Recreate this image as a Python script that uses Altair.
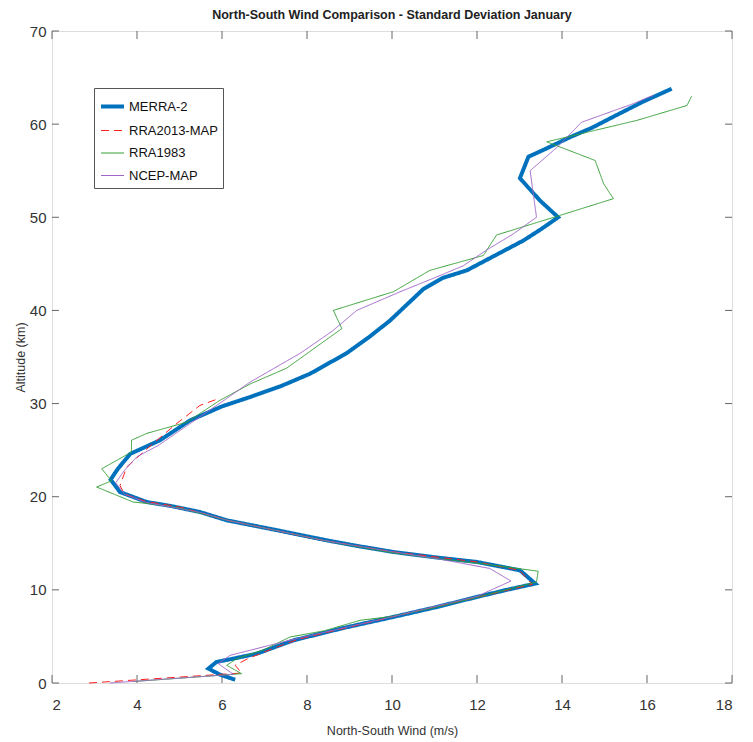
import altair as alt
import pandas as pd

series_names = ["MERRA-2", "RRA2013-MAP", "RRA1983", "NCEP-MAP"]
series_colors = ["#0072BD", "#FF2020", "#35A035", "#A066C8"]

merra_wind = [6.31, 5.95, 5.68, 5.87, 6.27, 6.82, 7.68, 8.85, 10.03, 11.0, 11.99, 12.7, 13.37,
              13.01, 11.99, 11.0, 10.03, 9.2, 8.46, 7.3, 6.11, 5.48, 4.8, 4.23, 3.6, 3.38, 3.55,
              3.84, 4.54, 5.25, 6.0, 6.66, 7.4, 8.07, 8.93, 9.45, 9.95, 10.74, 11.2, 11.76, 12.3,
              13.09, 13.5, 13.91, 13.48, 13.01, 13.21, 13.64, 14.19, 14.7, 15.21, 15.9, 16.58]
merra_alt = [0.35, 0.9, 1.55, 2.26, 2.62, 3.15, 4.58, 5.9, 7.09, 8.1, 9.23, 10.0, 10.67,
             12.1, 13.0, 13.5, 14.07, 14.7, 15.32, 16.4, 17.47, 18.36, 19.0, 19.43, 20.5, 21.84, 23.0,
             24.6, 26.06, 28.2, 29.7, 30.7, 31.9, 33.2, 35.4, 37.1, 38.9, 42.3, 43.5, 44.3, 45.6,
             47.5, 48.7, 50.0, 51.8, 54.2, 56.5, 57.4, 58.6, 59.6, 60.8, 62.4, 63.8]

rra2013_wind = [2.87, 6.46, 6.31, 6.6, 7.2, 7.8, 10.0, 12.0, 13.3, 13.0, 12.0, 10.0, 8.4, 6.1,
                5.0, 4.2, 3.7, 3.6, 3.76, 4.2, 4.89, 5.48, 5.9]
rra2013_alt = [0.0, 1.07, 1.9, 2.6, 3.7, 4.7, 7.1, 9.2, 10.6, 12.1, 13.0, 14.1, 15.3, 17.5,
               18.9, 19.5, 20.3, 21.2, 23.2, 25.0, 27.7, 29.8, 30.5]

rra1983_wind = [3.9, 6.46, 6.11, 6.35, 7.0, 7.6, 8.4, 9.25, 10.0, 11.0, 12.0, 13.4, 13.44, 12.3,
                11.0, 10.0, 8.5, 6.1, 5.0, 4.4, 3.91, 3.05, 3.4, 3.17, 3.6, 3.87, 3.87, 4.23,
                5.17, 5.95, 6.66, 7.52, 8.82, 8.62, 9.25, 10.03, 10.89, 12.15, 12.46, 13.95,
                15.21, 14.98, 14.78, 13.64, 15.76, 16.94, 17.05]
rra1983_alt = [0.15, 1.0, 1.9, 2.62, 3.6, 4.94, 5.6, 6.73, 7.15, 8.1, 9.2, 10.85, 12.0, 12.7,
               13.4, 14.0, 15.2, 17.5, 18.8, 19.2, 19.43, 21.04, 21.7, 23.0, 24.1, 24.8, 26.06, 26.8,
               28.0, 30.35, 32.1, 33.8, 38.05, 40.0, 40.9, 42.0, 44.3, 45.9, 48.1, 50.2,
               52.0, 53.6, 56.1, 58.1, 60.4, 62.0, 63.0]

ncep_wind = [3.36, 6.27, 5.91, 6.19, 7.6, 10.0, 12.0, 12.8, 12.3, 11.0, 10.0, 8.4, 6.1, 5.5,
             4.2, 3.7, 3.5, 3.7, 4.0, 4.5, 5.2, 6.0, 6.66, 7.84, 8.6, 9.17, 10.19, 11.0, 11.68,
             12.23, 12.85, 13.4, 13.25, 13.88, 14.46, 15.68, 16.15]
ncep_alt = [0.0, 0.93, 2.08, 2.97, 4.6, 7.1, 9.3, 10.95, 12.3, 13.4, 14.1, 15.3, 17.5, 18.3,
            19.4, 20.3, 21.5, 22.8, 24.3, 25.5, 27.7, 30.2, 32.3, 35.4, 37.8, 40.0, 42.0, 43.5, 44.8,
            46.5, 48.2, 50.0, 55.0, 57.5, 60.2, 62.2, 63.1]

x_ticks = [2, 4, 6, 8, 10, 12, 14, 16, 18]
y_ticks = [0, 10, 20, 30, 40, 50, 60, 70]

rows = []
for name, ws, alts in [("MERRA-2", merra_wind, merra_alt),
                       ("RRA2013-MAP", rra2013_wind, rra2013_alt),
                       ("RRA1983", rra1983_wind, rra1983_alt),
                       ("NCEP-MAP", ncep_wind, ncep_alt)]:
    for i, (w, a) in enumerate(zip(ws, alts)):
        rows.append({"series": name, "wind": w, "alt": a, "idx": i})
df = pd.DataFrame(rows)

W, H = 680, 652
FONT = "Liberation Sans"
FRAME = "#666666"

xscale = alt.Scale(domain=[2, 18], nice=False, zero=False)
yscale = alt.Scale(domain=[0, 70], nice=False, zero=False)

color = alt.Color("series:N", scale=alt.Scale(domain=series_names, range=series_colors),
                  legend=alt.Legend(title=None, orient="none", legendX=42, legendY=57,
                                    symbolType="stroke", symbolSize=529, labelFontSize=13,
                                    labelFont=FONT, labelColor="#111111", rowPadding=3.5,
                                    padding=5, strokeColor="#555555", fillColor="white",
                                    labelOffset=3))
dash = alt.StrokeDash("series:N", scale=alt.Scale(domain=series_names,
                                                  range=[[1, 0], [8, 5], [1, 0], [1, 0]]),
                      legend=alt.Legend(title=None))
swidth = alt.StrokeWidth("series:N", scale=alt.Scale(type="ordinal", domain=series_names,
                                                     range=[4, 1, 1, 1]),
                         legend=alt.Legend(title=None))

layers = []
for name in series_names:
    layers.append(
        alt.Chart(df[df.series == name]).mark_line().encode(
            x=alt.X("wind:Q", scale=xscale,
                    axis=alt.Axis(values=x_ticks, title="North-South Wind (m/s)", ticks=False,
                                  domain=False, grid=False, labelPadding=14, titlePadding=12,
                                  labelFontSize=15, titleFontSize=12.5, labelFont=FONT, titleFont=FONT,
                                  labelColor="#333333", titleColor="#333333", titleFontWeight="normal")),
            y=alt.Y("alt:Q", scale=yscale,
                    axis=alt.Axis(values=y_ticks, title="Altitude (km)", ticks=False,
                                  domain=False, grid=False, labelPadding=6, titlePadding=2,
                                  labelFontSize=15, titleFontSize=12.5, labelFont=FONT, titleFont=FONT,
                                  labelColor="#333333", titleColor="#333333", titleFontWeight="normal")),
            color=color, strokeDash=dash, strokeWidth=swidth,
            order="idx:Q",
        )
    )

xt = pd.DataFrame({"v": x_ticks})
yt = pd.DataFrame({"v": y_ticks})
tb = alt.Chart(xt).mark_rule(color=FRAME).encode(x=alt.X("v:Q", scale=xscale), y=alt.value(H), y2=alt.value(H - 8))
tt = alt.Chart(xt).mark_rule(color=FRAME).encode(x=alt.X("v:Q", scale=xscale), y=alt.value(0), y2=alt.value(8))
tl = alt.Chart(yt).mark_rule(color=FRAME).encode(y=alt.Y("v:Q", scale=yscale), x=alt.value(0), x2=alt.value(7))
tr = alt.Chart(yt).mark_rule(color=FRAME).encode(y=alt.Y("v:Q", scale=yscale), x=alt.value(W), x2=alt.value(W - 7))

chart = alt.layer(tb, tt, tl, tr, *layers).properties(
    width=W, height=H,
    title=alt.TitleParams("North-South Wind Comparison - Standard Deviation January",
                          font=FONT, fontSize=12.5, fontWeight="bold", color="#222222",
                          anchor="middle", offset=3),
    autosize=alt.AutoSizeParams(type="none"),
    padding={"left": 44, "top": 23, "right": 13, "bottom": 58},
).configure_view(stroke=FRAME, strokeWidth=1.2).configure(background="white")

chart.save("out.html", embed_options={"renderer": "svg", "actions": False})
